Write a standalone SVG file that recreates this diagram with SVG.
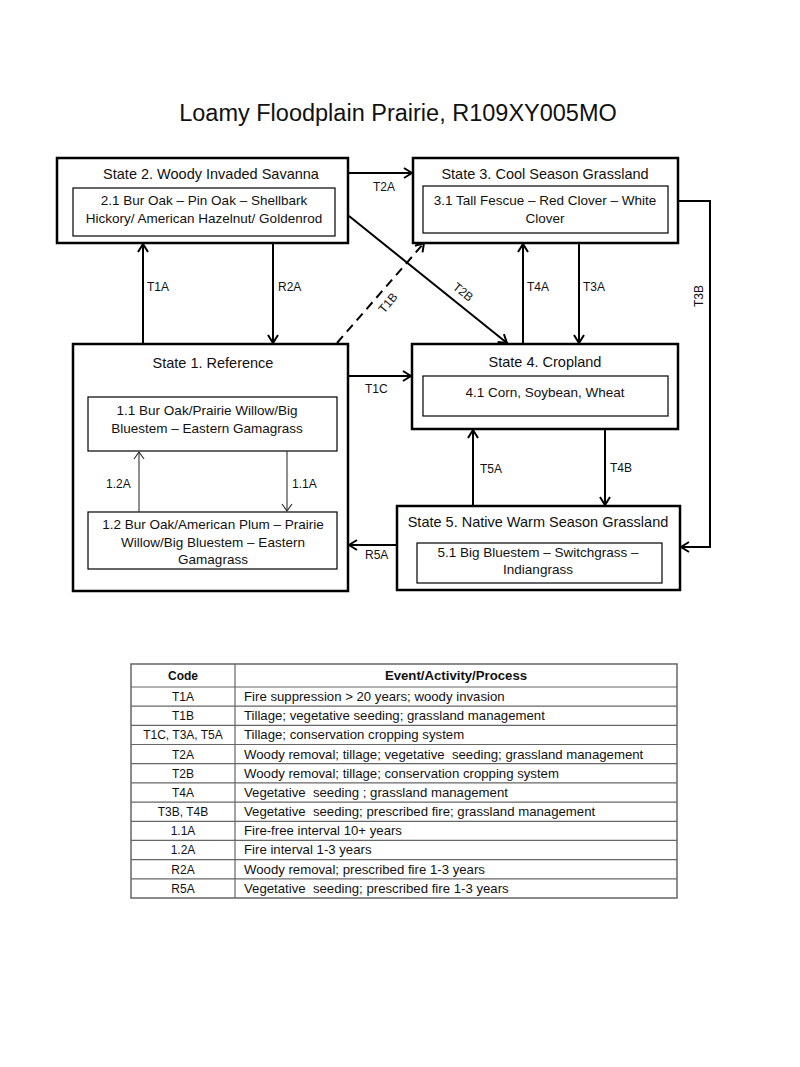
<svg xmlns="http://www.w3.org/2000/svg" width="800" height="1067" viewBox="0 0 800 1067">
<style>
text{font-family:"Liberation Sans",Arial,sans-serif;fill:#111}
.title{font-size:23.5px}
.st{font-size:14.5px;text-anchor:middle}
.in{font-size:13.5px;text-anchor:middle}
.lb{font-size:12px}
.tb{font-size:12px}
.td{font-size:13.2px}
.tc{text-anchor:middle}
.ob{fill:#fff;stroke:#000;stroke-width:2.5}
.ib{fill:#fff;stroke:#000;stroke-width:1.2}
.c{fill:none;stroke:#000;stroke-width:2;marker-end:url(#ah)}
.cs{fill:none;stroke:#333;stroke-width:1.1;marker-end:url(#ahs)}
.tl{stroke:#666;stroke-width:1.2}
</style>
<defs>
<marker id="ah" viewBox="0 0 12 12" refX="11" refY="6" markerWidth="12" markerHeight="12" markerUnits="userSpaceOnUse" orient="auto">
<path d="M3,1 L11,6 L3,11" fill="none" stroke="#000" stroke-width="2"/>
</marker>
<marker id="ahs" viewBox="0 0 12 12" refX="11" refY="6" markerWidth="12" markerHeight="12" markerUnits="userSpaceOnUse" orient="auto">
<path d="M4,1 L11,6 L4,11" fill="none" stroke="#333" stroke-width="1.2"/>
</marker>
</defs>
<rect width="800" height="1067" fill="#fff"/>
<text class="title" x="398" y="121" text-anchor="middle">Loamy Floodplain Prairie, R109XY005MO</text>

<g id="state2">
<rect class="ob" x="57" y="158" width="291" height="85"/>
<text class="st" x="211" y="179">State 2. Woody Invaded Savanna</text>
<rect class="ib" x="73" y="188" width="262" height="48"/>
<text class="in" x="204" y="205">2.1 Bur Oak – Pin Oak – Shellbark</text>
<text class="in" x="204" y="223">Hickory/ American Hazelnut/ Goldenrod</text>
</g>

<g id="state3">
<rect class="ob" x="413" y="158" width="265" height="85"/>
<text class="st" x="545" y="179">State 3. Cool Season Grassland</text>
<rect class="ib" x="423" y="186" width="245" height="47"/>
<text class="in" x="545" y="205">3.1 Tall Fescue – Red Clover – White</text>
<text class="in" x="545" y="223">Clover</text>
</g>

<g id="state1">
<rect class="ob" x="73" y="344" width="275" height="247"/>
<text class="st" x="213" y="368">State 1. Reference</text>
</g>

<g id="phase11">
<rect class="ib" x="88" y="397" width="249" height="54"/>
<text class="in" x="207" y="415">1.1 Bur Oak/Prairie Willow/Big</text>
<text class="in" x="207" y="433">Bluestem – Eastern Gamagrass</text>
</g>

<g id="phase12">
<rect class="ib" x="88" y="512" width="249" height="57"/>
<text class="in" x="213" y="529">1.2 Bur Oak/American Plum – Prairie</text>
<text class="in" x="213" y="547">Willow/Big Bluestem – Eastern</text>
<text class="in" x="213" y="564">Gamagrass</text>
</g>

<g id="state4">
<rect class="ob" x="412" y="344" width="266" height="85"/>
<text class="st" x="545" y="367">State 4. Cropland</text>
<rect class="ib" x="423" y="376" width="245" height="40"/>
<text class="in" x="545" y="397">4.1 Corn, Soybean, Wheat</text>
</g>

<g id="state5">
<rect class="ob" x="397" y="506" width="283" height="84"/>
<text class="st" x="538" y="527">State 5. Native Warm Season Grassland</text>
<rect class="ib" x="417" y="543" width="245" height="40"/>
<text class="in" x="538" y="557">5.1 Big Bluestem – Switchgrass –</text>
<text class="in" x="538" y="574">Indiangrass</text>
</g>

<g id="connectors">
<line class="c" x1="349" y1="173" x2="412" y2="173"/>
<line class="c" x1="143" y1="343" x2="143" y2="244"/>
<line class="c" x1="273" y1="244" x2="273" y2="343"/>
<line class="c" x1="337" y1="343" x2="424" y2="243" stroke-dasharray="9,6"/>
<line class="c" x1="349" y1="216" x2="507" y2="343"/>
<line class="c" x1="523" y1="343" x2="523" y2="244"/>
<line class="c" x1="579" y1="244" x2="579" y2="343"/>
<polyline class="c" points="679,201 710,201 710,547 681,547"/>
<line class="c" x1="349" y1="376" x2="411" y2="376"/>
<line class="c" x1="473" y1="505" x2="473" y2="430"/>
<line class="c" x1="605" y1="430" x2="605" y2="505"/>
<line class="c" x1="396" y1="545" x2="349" y2="545"/>
<line class="cs" x1="139" y1="512" x2="139" y2="452"/>
<line class="cs" x1="287" y1="451" x2="287" y2="511"/>
<text class="lb" x="373" y="191">T2A</text>
<text class="lb" x="147" y="291">T1A</text>
<text class="lb" x="278" y="291">R2A</text>
<text class="lb" transform="translate(388,303) rotate(-50)" text-anchor="middle" y="4">T1B</text>
<text class="lb" transform="translate(463,292) rotate(39)" text-anchor="middle" y="4">T2B</text>
<text class="lb" x="527" y="291">T4A</text>
<text class="lb" x="583" y="291">T3A</text>
<text class="lb" transform="translate(699,296) rotate(-90)" text-anchor="middle" y="4">T3B</text>
<text class="lb" x="365" y="393">T1C</text>
<text class="lb" x="480" y="473">T5A</text>
<text class="lb" x="610" y="472">T4B</text>
<text class="lb" x="365" y="559">R5A</text>
<text class="lb" x="106" y="488">1.2A</text>
<text class="lb" x="292" y="488">1.1A</text>
</g>

<g id="table">
<rect x="131" y="664" width="546" height="234" fill="#fff" stroke="#666" stroke-width="1.5"/>
<line class="tl" x1="235" y1="664" x2="235" y2="898"/>
<line class="tl" x1="131" y1="687" x2="677" y2="687"/>
<line class="tl" x1="131" y1="706.2" x2="677" y2="706.2"/>
<line class="tl" x1="131" y1="725.4" x2="677" y2="725.4"/>
<line class="tl" x1="131" y1="744.5" x2="677" y2="744.5"/>
<line class="tl" x1="131" y1="763.7" x2="677" y2="763.7"/>
<line class="tl" x1="131" y1="782.9" x2="677" y2="782.9"/>
<line class="tl" x1="131" y1="802.1" x2="677" y2="802.1"/>
<line class="tl" x1="131" y1="821.3" x2="677" y2="821.3"/>
<line class="tl" x1="131" y1="840.4" x2="677" y2="840.4"/>
<line class="tl" x1="131" y1="859.6" x2="677" y2="859.6"/>
<line class="tl" x1="131" y1="878.8" x2="677" y2="878.8"/>
<text class="tb tc" x="183" y="680" font-weight="bold">Code</text>
<text class="td tc" x="456" y="680" font-weight="bold">Event/Activity/Process</text>
<text class="tb tc" x="183" y="701">T1A</text>
<text class="td" x="244" y="701">Fire suppression &gt; 20 years; woody invasion</text>
<text class="tb tc" x="183" y="720.2">T1B</text>
<text class="td" x="244" y="720.2">Tillage; vegetative seeding; grassland management</text>
<text class="tb tc" x="183" y="739.4">T1C, T3A, T5A</text>
<text class="td" x="244" y="739.4">Tillage; conservation cropping system</text>
<text class="tb tc" x="183" y="758.5">T2A</text>
<text class="td" x="244" y="758.5" xml:space="preserve">Woody removal; tillage; vegetative  seeding; grassland management</text>
<text class="tb tc" x="183" y="777.7">T2B</text>
<text class="td" x="244" y="777.7">Woody removal; tillage; conservation cropping system</text>
<text class="tb tc" x="183" y="796.9">T4A</text>
<text class="td" x="244" y="796.9" xml:space="preserve">Vegetative  seeding ; grassland management</text>
<text class="tb tc" x="183" y="816.1">T3B, T4B</text>
<text class="td" x="244" y="816.1" xml:space="preserve">Vegetative  seeding; prescribed fire; grassland management</text>
<text class="tb tc" x="183" y="835.3">1.1A</text>
<text class="td" x="244" y="835.3">Fire-free interval 10+ years</text>
<text class="tb tc" x="183" y="854.4">1.2A</text>
<text class="td" x="244" y="854.4">Fire interval 1-3 years</text>
<text class="tb tc" x="183" y="873.6">R2A</text>
<text class="td" x="244" y="873.6">Woody removal; prescribed fire 1-3 years</text>
<text class="tb tc" x="183" y="892.8">R5A</text>
<text class="td" x="244" y="892.8" xml:space="preserve">Vegetative  seeding; prescribed fire 1-3 years</text>
</g>
</svg>
